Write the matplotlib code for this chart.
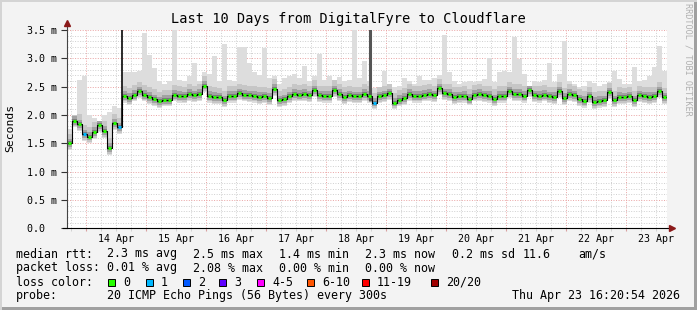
import matplotlib
matplotlib.use('Agg')
import matplotlib.pyplot as plt
import matplotlib.dates as mdates
from matplotlib.ticker import MultipleLocator, FuncFormatter
from matplotlib.patches import Rectangle
from datetime import datetime, timedelta
import numpy as np

title = "Last 10 Days from DigitalFyre to Cloudflare"
start = datetime(2026, 4, 13, 16, 20)
end = datetime(2026, 4, 23, 16, 20)
step_hours = 2

# median RTT (ms), one value per 2-hour step
median = [1.50, 1.90, 1.84, 1.66, 1.62, 1.70, 1.82, 1.72, 1.42, 1.85, 1.78,
          2.34, 2.30, 2.36, 2.42, 2.36, 2.32, 2.28, 2.24, 2.27, 2.27,
          2.36, 2.34, 2.33, 2.37, 2.35, 2.37, 2.52, 2.34, 2.32, 2.31,
          2.26, 2.34, 2.34, 2.38, 2.36, 2.35, 2.34, 2.32, 2.33, 2.30,
          2.46, 2.26, 2.28, 2.33, 2.37, 2.36, 2.37, 2.35, 2.44, 2.35,
          2.34, 2.34, 2.44, 2.37, 2.32, 2.35, 2.33, 2.33, 2.37, 2.34,
          2.22, 2.33, 2.35, 2.38, 2.22, 2.27, 2.30, 2.37, 2.34, 2.34,
          2.36, 2.37, 2.35, 2.47, 2.38, 2.37, 2.32, 2.33, 2.34, 2.29,
          2.36, 2.37, 2.35, 2.34, 2.28, 2.34, 2.34, 2.42, 2.37, 2.37,
          2.34, 2.44, 2.35, 2.34, 2.36, 2.33, 2.32, 2.42, 2.30, 2.37,
          2.35, 2.28, 2.25, 2.33, 2.23, 2.25, 2.26, 2.40, 2.26, 2.32,
          2.31, 2.33, 2.26, 2.35, 2.33, 2.32, 2.33, 2.42, 2.31]

# highest ping in each step (ms) - light smoke top
high = [1.75, 2.00, 2.62, 2.68, 2.00, 1.95, 1.90, 2.00, 2.05, 2.15, 2.12,
        2.75, 2.75, 2.75, 2.78, 3.45, 3.05, 2.83, 2.60, 2.55, 2.60,
        3.50, 2.62, 2.60, 2.69, 2.92, 2.60, 2.75, 2.72, 3.04, 2.60,
        3.25, 2.62, 2.60, 3.20, 3.20, 2.92, 2.75, 2.70, 3.19, 2.65,
        2.69, 2.55, 2.65, 2.69, 2.72, 2.65, 2.86, 2.60, 2.69, 3.08,
        2.62, 2.69, 2.62, 2.67, 2.60, 2.62, 3.50, 2.65, 2.95, 2.60,
        2.48, 2.50, 2.78, 2.55, 2.50, 2.52, 2.66, 2.60, 2.55, 2.69,
        2.62, 2.62, 2.65, 2.70, 3.42, 2.75, 2.60, 2.55, 2.58, 2.60,
        2.58, 2.60, 2.63, 3.00, 2.58, 2.75, 2.78, 2.75, 3.38, 2.98,
        2.72, 2.50, 2.60, 2.58, 2.62, 2.92, 2.58, 2.72, 3.30, 2.60,
        2.55, 2.50, 2.52, 2.60, 2.57, 2.52, 2.55, 2.58, 2.78, 2.63,
        2.55, 2.55, 2.85, 2.60, 2.62, 2.68, 2.85, 3.22, 2.78]

loss1_steps = [3, 10, 61]      # steps with 1/20 loss

spike_times = [datetime(2026, 4, 14, 14, 24), datetime(2026, 4, 18, 17, 24)]
spike_low = [1.78, 2.25]
spike_high = [3.6, 3.6]
spike_colors = ['#1a1a1a', '#555555']
spike_widths = [1.3, 2.2]

legend_rows = [
    [("median rtt:", 16), ("2.3 ms avg", 107), ("2.5 ms max", 193), ("1.4 ms min", 279),
     ("2.3 ms now", 365), ("0.2 ms sd", 452), ("11.6", 523), ("am/s", 578)],
    [("packet loss:", 16), ("0.01 % avg", 107), ("2.08 % max", 193), ("0.00 % min", 279),
     ("0.00 % now", 365)],
]
loss_labels = ["0", "1", "2", "3", "4-5", "6-10", "11-19", "20/20"]
loss_colors = ["#26ff00", "#00b8ff", "#0059ff", "#5e00ff", "#ff00ff", "#ff5500", "#ff0000", "#a00000"]
loss_box_x = [108, 146, 183, 219, 257, 307, 362, 431]
probe_text = "20 ICMP Echo Pings (56 Bytes) every 300s"
stamp_text = "Thu Apr 23 16:20:54 2026"

W, H = 697, 310
fig = plt.figure(figsize=(W / 100, H / 100), dpi=100, facecolor='#f3f3f3')
MONO = 'DejaVu Sans Mono'

def fx(px):
    return px / W

def fy(py):
    return 1 - py / H

L, R, T, B = 67, 667, 30, 228.3
ax = fig.add_axes([fx(L), fy(B), (R - L) / W, (B - T) / H])
ax.set_facecolor('white')

n = len(median)
dt = timedelta(hours=step_hours)
t_edges = [start + i * dt for i in range(n + 1)]
xe = mdates.date2num(t_edges)
m = np.array(median)
hi = np.array(high)
m_ext = np.append(m, m[-1])
hi_ext = np.append(hi, hi[-1])

# smoke layers
ax.fill_between(xe, m_ext - 0.12, hi_ext, step='post', color='#dddddd', lw=0, zorder=2)
ax.fill_between(xe, m_ext - 0.10, np.minimum(m_ext + 0.17, hi_ext), step='post', color='#c6c6c6', lw=0, zorder=3)
ax.fill_between(xe, m_ext - 0.07, m_ext + 0.08, step='post', color='#a2a2a2', lw=0, zorder=4)
ax.fill_between(xe, m_ext - 0.035, m_ext + 0.035, step='post', color='#7c7c7c', lw=0, zorder=5)

# spikes
for t, lo, hh, c, w in zip(spike_times, spike_low, spike_high, spike_colors, spike_widths):
    ax.vlines(mdates.date2num(t), lo, hh, color=c, lw=w, zorder=6)

# median line
ax.step(xe, m_ext, where='post', color='black', lw=0.8, zorder=7)
dx = xe[1] - xe[0]
cols = [loss_colors[1] if i in loss1_steps else loss_colors[0] for i in range(n)]
ax.hlines(m, xe[:-1] + 0.12 * dx, xe[:-1] + 0.88 * dx, colors=cols, lw=2.2, zorder=8)

ax.set_xlim(mdates.date2num(start), mdates.date2num(end))
ax.set_ylim(0, 3.5)

# grid
ax.xaxis.set_major_locator(mdates.DayLocator())
ax.xaxis.set_minor_locator(mdates.HourLocator(byhour=[6, 12, 18]))
ax.xaxis.set_major_formatter(FuncFormatter(lambda v, p: ''))
ax.xaxis.set_minor_formatter(FuncFormatter(
    lambda v, p: mdates.num2date(v).strftime('%d %b') if mdates.num2date(v).hour == 12 else ''))
ax.yaxis.set_major_locator(MultipleLocator(0.5))
ax.yaxis.set_minor_locator(MultipleLocator(0.1))
ax.yaxis.set_major_formatter(FuncFormatter(lambda v, p: (f"{v:.1f} m" if v > 0.01 else "0.0  ")))

dot = (0, (1, 1.6))
ax.grid(which='minor', color='#cfcfcf', lw=0.7, linestyle=dot, zorder=1)
ax.grid(which='major', color='#eaa3a3', lw=0.7, linestyle=dot, zorder=1)
ax.set_axisbelow(True)

for s in ax.spines.values():
    s.set_visible(False)

ax.tick_params(axis='x', which='both', length=2, color='#d9a0a0', pad=2, labelsize=7.2,
               labelfontfamily=MONO, direction='out')
ax.tick_params(axis='x', which='minor', color='#cccccc')
ax.tick_params(axis='y', which='major', length=4, color='#333333', pad=3, labelsize=7.2,
               labelfontfamily=MONO)
ax.tick_params(axis='y', which='minor', length=0)

# axes lines with arrows
ax.plot([0, 0], [0, 1 + 6 / 198], transform=ax.transAxes, color='#444444', lw=0.8, clip_on=False, zorder=9)
ax.plot([-4 / 600, 1 + 4 / 600], [0, 0], transform=ax.transAxes, color='black', lw=0.8, clip_on=False, zorder=9)
ax.plot([0], [1 + 7 / 198], transform=ax.transAxes, marker='^', color='#8b1a1a', ms=4, clip_on=False, zorder=10)
ax.plot([1 + 5 / 600], [0], transform=ax.transAxes, marker='>', color='#8b1a1a', ms=4, clip_on=False, zorder=10)

# texts
fig.text(fx(348), fy(19.5), title, family=MONO, fontsize=9.8, ha='center', va='center', color='black')
fig.text(fx(10), fy(128), "Seconds", family=MONO, fontsize=8.2, rotation=90, ha='center', va='center')
fig.text(fx(688), fy(59), "RRDTOOL / TOBI OETIKER", family=MONO, fontsize=6.1, rotation=-90,
         ha='center', va='center', color='#b0b0b0')

row_y = [254, 268, 282, 296]
for r, row in enumerate(legend_rows):
    for txt, x in row:
        fig.text(fx(x), fy(row_y[r]), txt, family=MONO, fontsize=8.4, ha='left', va='center')
fig.text(fx(16), fy(row_y[2]), "loss color:", family=MONO, fontsize=8.4, ha='left', va='center')
for lab, col, bx in zip(loss_labels, loss_colors, loss_box_x):
    fig.patches.append(Rectangle((fx(bx), fy(row_y[2] + 3.5)), 7 / W, 7 / H, transform=fig.transFigure,
                                 facecolor=col, edgecolor='black', lw=0.7))
    fig.text(fx(bx + 15), fy(row_y[2]), lab, family=MONO, fontsize=8.4, ha='left', va='center')
fig.text(fx(16), fy(row_y[3]), "probe:", family=MONO, fontsize=8.4, ha='left', va='center')
fig.text(fx(107), fy(row_y[3]), probe_text, family=MONO, fontsize=8.4, ha='left', va='center')
fig.text(fx(680), fy(row_y[3]), stamp_text, family=MONO, fontsize=8.4, ha='right', va='center')

# frame
fig.patches.append(Rectangle((0, 0), 1, 3 / H, transform=fig.transFigure, facecolor='#a0a0a0', lw=0))
fig.patches.append(Rectangle((1 - 3 / W, 0), 3 / W, 1, transform=fig.transFigure, facecolor='#a0a0a0', lw=0))
fig.patches.append(Rectangle((0, 1 - 2 / H), 1, 2 / H, transform=fig.transFigure, facecolor='#d4d4d4', lw=0))
fig.patches.append(Rectangle((0, 0), 2 / W, 1, transform=fig.transFigure, facecolor='#d4d4d4', lw=0))

fig.savefig('out.png', dpi=100, facecolor=fig.get_facecolor())
